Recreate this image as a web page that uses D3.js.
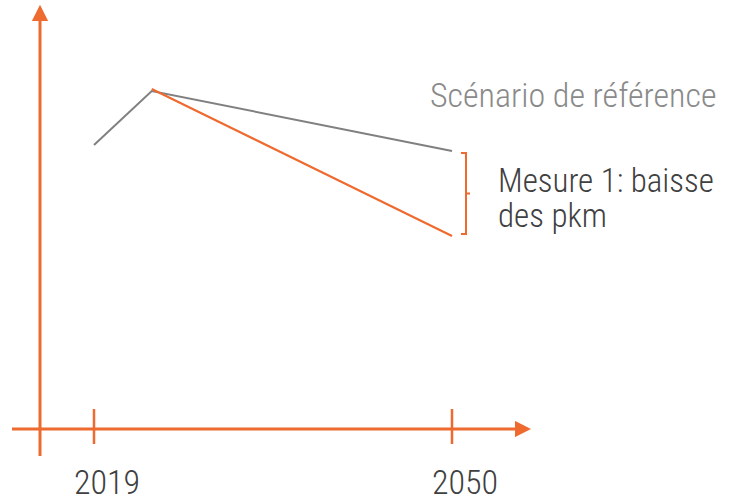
<!DOCTYPE html>
<html lang="fr">
<head>
<meta charset="utf-8">
<title>Scénario de référence vs Mesure 1</title>
<script src="https://d3js.org/d3.v7.min.js"></script>
<style>
  body { margin: 0; background: #fff; }
  text { font-family: "Liberation Sans Narrow", "Arial Narrow", "Roboto Condensed", sans-serif; font-weight: 300; }
</style>
</head>
<body>
<script>
// data (schematic index values)
var tickYears = [2019, 2050];
var refYears = [2019, 2024, 2050];
var refValues = [71, 84.5, 69.5];
var mesureYears = [2024, 2050];
var mesureValues = [85, 48.25];

var width = 729, height = 503;
var orange = "#ee6a2f";

var svg = d3.select("body").append("svg")
    .attr("width", width)
    .attr("height", height);

var x = d3.scaleLinear().domain([2019, 2050]).range([94, 452]);
var y = d3.scaleLinear().domain([0, 100]).range([429, 29]);

var defs = svg.append("defs");
defs.append("marker")
    .attr("id", "arrow")
    .attr("viewBox", "0 0 10 10")
    .attr("refX", 2).attr("refY", 5)
    .attr("markerWidth", 5.5).attr("markerHeight", 5.5)
    .attr("markerUnits", "strokeWidth")
    .attr("orient", "auto")
    .append("path")
    .attr("d", "M0,0 L10,5 L0,10 Z")
    .attr("fill", orange);

var axisX = 40, axisY = y(0);

// y axis
svg.append("line")
    .attr("x1", axisX).attr("y1", 456)
    .attr("x2", axisX).attr("y2", 18)
    .attr("stroke", orange).attr("stroke-width", 3)
    .attr("marker-end", "url(#arrow)");

// x axis
svg.append("line")
    .attr("x1", 12).attr("y1", axisY)
    .attr("x2", 518).attr("y2", axisY)
    .attr("stroke", orange).attr("stroke-width", 3)
    .attr("marker-end", "url(#arrow)");

// ticks crossing the axis
svg.selectAll(".tick").data(tickYears).enter()
    .append("line")
    .attr("class", "tick")
    .attr("x1", function(d) { return x(d); })
    .attr("x2", function(d) { return x(d); })
    .attr("y1", axisY - 20).attr("y2", axisY + 15)
    .attr("stroke", orange).attr("stroke-width", 2.5);

svg.selectAll(".ticklabel").data(tickYears).enter()
    .append("text")
    .attr("class", "ticklabel")
    .attr("x", function(d) { return x(d) + 13; })
    .attr("y", 494)
    .attr("text-anchor", "middle")
    .attr("font-size", 34)
    .attr("fill", "#404040")
    .text(function(d) { return d; });

var line = d3.line()
    .x(function(d) { return x(d[0]); })
    .y(function(d) { return y(d[1]); });

svg.append("path")
    .datum(d3.zip(refYears, refValues))
    .attr("d", line)
    .attr("fill", "none")
    .attr("stroke", "#808080")
    .attr("stroke-width", 2);

svg.append("path")
    .datum(d3.zip(mesureYears, mesureValues))
    .attr("d", line)
    .attr("fill", "none")
    .attr("stroke", orange)
    .attr("stroke-width", 2.2);

// bracket between the two 2050 values
var bx = x(2050) + 14;
var bTop = y(refValues[2]) + 2, bBot = y(mesureValues[1]) - 2, bMid = (bTop + bBot) / 2;
svg.append("path")
    .attr("d", "M" + (bx - 5) + "," + bTop + " H" + bx + " V" + bBot + " H" + (bx - 5) +
               " M" + bx + "," + bMid + " H" + (bx + 4))
    .attr("fill", "none")
    .attr("stroke", orange)
    .attr("stroke-width", 2);

svg.append("text")
    .attr("x", 430).attr("y", 107)
    .attr("font-size", 34)
    .attr("fill", "#8a8a8a")
    .text("Scénario de référence");

var mx = 498;
svg.append("text")
    .attr("x", mx).attr("y", 192)
    .attr("font-size", 33)
    .attr("fill", "#404040")
    .text("Mesure 1: baisse");
svg.append("text")
    .attr("x", mx).attr("y", 227)
    .attr("font-size", 33)
    .attr("fill", "#404040")
    .text("des pkm");
</script>
</body>
</html>
